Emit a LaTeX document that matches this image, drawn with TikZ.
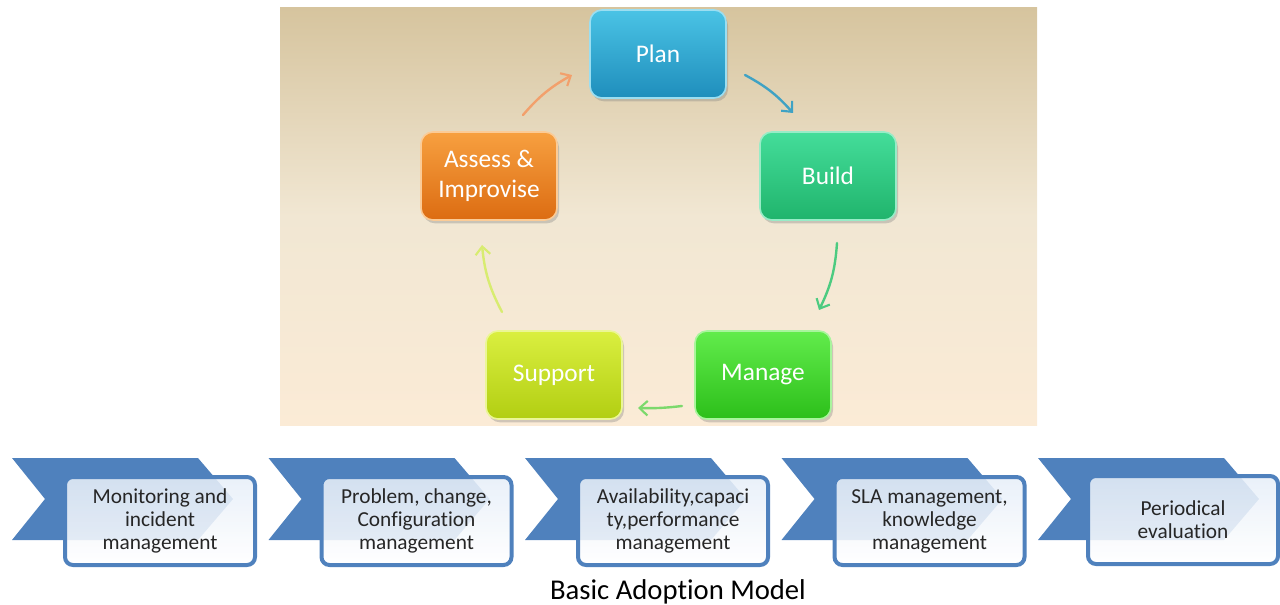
\documentclass[tikz,border=0pt]{standalone}
\usepackage{fontspec}
\setmainfont{Carlito}[Ligatures={NoCommon,NoContextual}]
\usetikzlibrary{arrows.meta,shadows}
\definecolor{chevblue}{HTML}{4F81BD}
\definecolor{boxtext}{HTML}{262626}
\definecolor{bgtop}{HTML}{D6C49E}
\definecolor{bgmid}{HTML}{F1E7D3}
\definecolor{bgbot}{HTML}{FBEBD6}
\definecolor{boxtop}{HTML}{E6EEF8}
\definecolor{planT}{HTML}{4AC3E5}\definecolor{planB}{HTML}{1F8EBC}
\definecolor{buildT}{HTML}{44DD9A}\definecolor{buildB}{HTML}{20B46C}
\definecolor{manT}{HTML}{62EC4C}\definecolor{manB}{HTML}{2CBF1A}
\definecolor{supT}{HTML}{DAEF40}\definecolor{supB}{HTML}{B2CE12}
\definecolor{assT}{HTML}{F7A040}\definecolor{assB}{HTML}{DC6C12}
\definecolor{arrPlan}{HTML}{3FA2C4}
\definecolor{arrBuild}{HTML}{4CCB80}
\definecolor{arrMan}{HTML}{7CD96C}
\definecolor{arrSup}{HTML}{D8EC70}
\definecolor{arrAss}{HTML}{F2A06C}
\tikzset{
  cyc/.style 2 args={rectangle, rounded corners=9pt, minimum width=102pt, minimum height=66pt,
     top color=#1, bottom color=#2, draw=#1!55!white, line width=1.2pt,
     text=white, font=\fontsize{19}{22}\selectfont, align=center,
     drop shadow={shadow xshift=1.5pt, shadow yshift=-2.5pt, opacity=0.35}},
  chevshape/.style={fill=chevblue},
  infobox/.style={rectangle, rounded corners=6pt, minimum width=142.5pt, minimum height=66pt,
     draw=chevblue, line width=3pt, top color=boxtop, bottom color=white, fill opacity=0.88, text opacity=1,
     text=boxtext, font=\fontsize{16}{17.3}\selectfont, align=center},
  cycarrow/.style={draw=#1, line width=1.8pt, line cap=round,
     -{Straight Barb[length=6pt,width=11pt,line width=1.6pt]}},
}
\begin{document}
\begin{tikzpicture}[x=0.75pt,y=-0.75pt]
\useasboundingbox (0,0) rectangle (1280,605);
% background panel
\shade[top color=bgtop, bottom color=bgbot, middle color=bgmid] (280,8) rectangle (1037,425);
% cycle nodes
\node[cyc={planT}{planB}] (plan) at (658,54) {Plan};
\node[cyc={buildT}{buildB}] (build) at (828,176) {Build};
\node[cyc={manT}{manB}] (manage) at (763,375) {Manage};
\node[cyc={supT}{supB}] (support) at (554,375) {Support};
\node[cyc={assT}{assB}] (assess) at (489,176) {Assess \&\\Improvise};
% arrow ends
\coordinate (pbS) at (745,75);  \coordinate (pbE) at (793,113);
\coordinate (bmS) at (837,243); \coordinate (bmE) at (819,310);
\coordinate (msS) at (682,406); \coordinate (msE) at (638,408);
\coordinate (saS) at (502,312); \coordinate (saE) at (482,245);
\coordinate (apS) at (523,115); \coordinate (apE) at (572,75);
\draw[cycarrow=arrPlan] (pbS) to[bend left=10] (pbE);
\draw[cycarrow=arrBuild] (bmS) to[bend left=11] (bmE);
\draw[cycarrow=arrMan] (msS) to[bend left=4] (msE);
\draw[cycarrow=arrSup] (saS) to[bend left=11] (saE);
\draw[cycarrow=arrAss] (apS) to[bend left=10] (apE);
% chevrons
\foreach \i/\x in {1/12,2/268.5,3/525,4/781.5,5/1038}{
  \fill[chevshape] (\x,458) -- ++(186,0) -- ++(35,41) -- ++(-35,41) -- ++(-186,0) -- ++(33,-41) -- cycle;
}
% info boxes
\node[infobox] (b1) at (160,521) {Monitoring and\\incident\\management};
\node[infobox] (b2) at (416.5,521) {Problem, change,\\Configuration\\management};
\node[infobox] (b3) at (673,521) {Availability,capaci\\ty,performance\\management};
\node[infobox] (b4) at (929.5,521) {SLA management,\\knowledge\\management};
\node[infobox] (b5) at (1183,520) {Periodical\\evaluation};
% caption
\node[font=\fontsize{21.5}{24}\selectfont, text=black] (cap) at (678,592) {Basic Adoption Model};
\end{tikzpicture}
\end{document}
